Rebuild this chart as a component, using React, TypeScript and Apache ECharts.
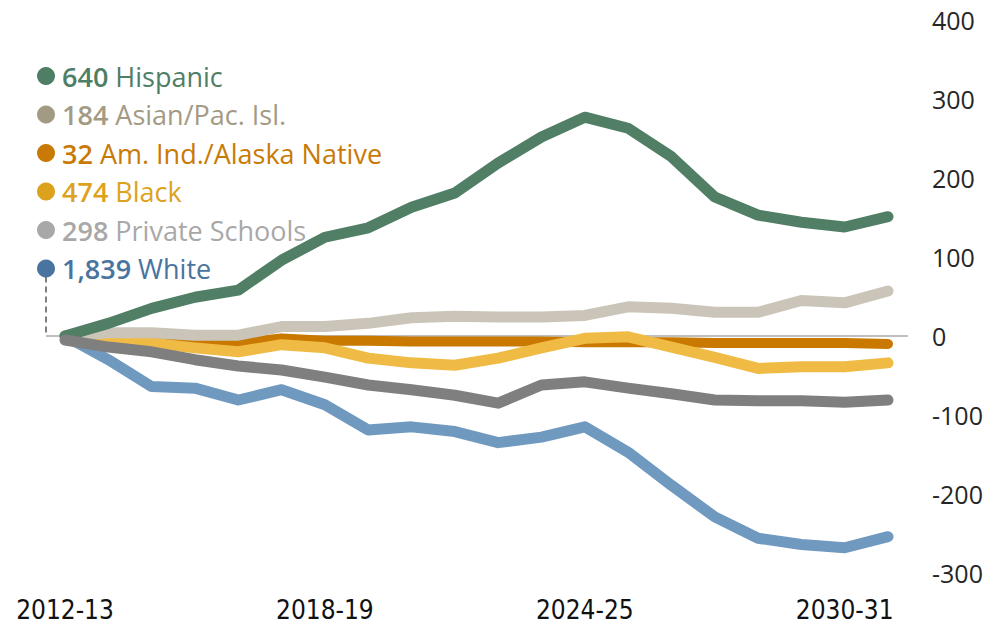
import React, { useEffect, useRef } from "react";
import * as echarts from "echarts";

const years = [
  "2012-13", "2013-14", "2014-15", "2015-16", "2016-17", "2017-18", "2018-19",
  "2019-20", "2020-21", "2021-22", "2022-23", "2023-24", "2024-25", "2025-26",
  "2026-27", "2027-28", "2028-29", "2029-30", "2030-31", "2031-32",
];

const hispanic = [0, 16, 35, 49, 58, 96, 125, 137, 163, 181, 219, 252, 277, 263, 227, 176, 153, 144, 138, 151];
const asian = [0, 4, 4, 1, 1, 12, 12, 16, 23, 25, 24, 24, 26, 37, 35, 30, 30, 45, 42, 57];
const amInd = [0, -3, -5, -7, -9, -3, -6, -6, -7, -7, -7, -7, -8, -8, -8, -9, -9, -9, -9, -10];
const black = [0, -5, -9, -15, -20, -11, -15, -28, -34, -37, -28, -15, -3, -1, -14, -27, -41, -39, -39, -34];
const privateSchools = [-5, -14, -20, -30, -38, -43, -52, -62, -68, -75, -85, -62, -58, -66, -73, -81, -82, -82, -84, -81];
const white = [0, -30, -64, -66, -81, -68, -87, -119, -115, -121, -135, -128, -115, -147, -189, -229, -256, -264, -268, -254];

const legendTotals = ["640", "184", "32", "474", "298", "1,839"];
const legendNames = ["Hispanic", "Asian/Pac. Isl.", "Am. Ind./Alaska Native", "Black", "Private Schools", "White"];
const legendColors = ["#4f7e66", "#a39a84", "#c97a06", "#dca21e", "#a8a8a8", "#4a74a0"];

const yTicks = [-300, -200, -100, 0, 100, 200, 300, 400];

export default function App() {
  const ref = useRef<HTMLDivElement>(null);
  useEffect(() => {
    if (!ref.current) return;
    const chart = echarts.init(ref.current, null, { renderer: "svg" });
    const lineSeries = (name: string, data: number[], color: string, width = 11) => ({
      name,
      type: "line",
      data,
      showSymbol: false,
      symbol: "none",
      lineStyle: { color, width, cap: "round", join: "round" },
      z: 3,
    });
    chart.setOption({
      animation: false,
      grid: { left: 65, right: 109, top: 20, bottom: 53 },
      xAxis: {
        type: "category",
        data: years,
        boundaryGap: false,
        axisLine: { show: false },
        axisTick: { show: false },
        axisLabel: {
          interval: 5,
          margin: 24,
          fontFamily: "'Liberation Sans Narrow', 'DejaVu Sans Condensed', 'Open Sans', sans-serif",
          fontSize: 26,
          color: "#111",
        },
      },
      yAxis: {
        type: "value",
        position: "right",
        min: yTicks[0],
        max: yTicks[yTicks.length - 1],
        interval: 100,
        axisLine: { show: false },
        axisTick: { show: false },
        splitLine: { show: false },
        axisLabel: {
          margin: 44,
          align: "left",
          fontFamily: "'Open Sans', sans-serif",
          fontSize: 25,
          color: "#262626",
        },
      },
      series: [
        lineSeries("White", white, "#7099bf"),
        lineSeries("Am. Ind./Alaska Native", amInd, "#c97800", 10),
        lineSeries("Black", black, "#f0bb45"),
        lineSeries("Asian/Pac. Isl.", asian, "#cbc5b9"),
        lineSeries("Hispanic", hispanic, "#517f66"),
        lineSeries("Private Schools", privateSchools, "#7f7f7f"),
      ],
    });

    const p0 = chart.convertToPixel({ gridIndex: 0 }, [0, 0]) as number[];
    const pEnd = chart.convertToPixel({ gridIndex: 0 }, [years.length - 1, 0]) as number[];
    const legendX = 46;
    const legendTop = 76;
    const rowGap = 38.5;
    const graphics: any[] = [];
    graphics.push({
      type: "line",
      z: 1,
      shape: { x1: legendX, y1: p0[1], x2: pEnd[0] + 20, y2: p0[1] },
      style: { stroke: "#bfbfbf", lineWidth: 2 },
    });
    graphics.push({
      type: "line",
      z: 1,
      shape: { x1: legendX, y1: legendTop + rowGap * 5 + 8, x2: legendX, y2: p0[1] },
      style: { stroke: "#7f7f7f", lineWidth: 2, lineDash: [6, 4] },
    });
    legendNames.forEach((name, i) => {
      const y = legendTop + rowGap * i;
      graphics.push({
        type: "circle",
        z: 10,
        shape: { cx: legendX, cy: y, r: 9 },
        style: { fill: legendColors[i] },
      });
      graphics.push({
        type: "text",
        z: 10,
        x: legendX + 16,
        y,
        style: {
          text: `{n|${legendTotals[i]}}{l|${name}}`,
          verticalAlign: "middle",
          rich: {
            n: { fontFamily: "'Open Sans', sans-serif", fontSize: 27, fontWeight: 600, fill: legendColors[i] },
            l: {
              fontFamily: "'Open Sans', sans-serif",
              fontSize: 27,
              fontWeight: 400,
              fill: legendColors[i],
              padding: [0, 0, 0, 7],
            },
          },
        },
      });
    });
    chart.setOption({ graphic: graphics });
    return () => chart.dispose();
  }, []);
  return (
    <div
      ref={ref}
      style={{ position: "fixed", left: 0, top: 0, width: 997, height: 626, background: "#fff" }}
    />
  );
}
